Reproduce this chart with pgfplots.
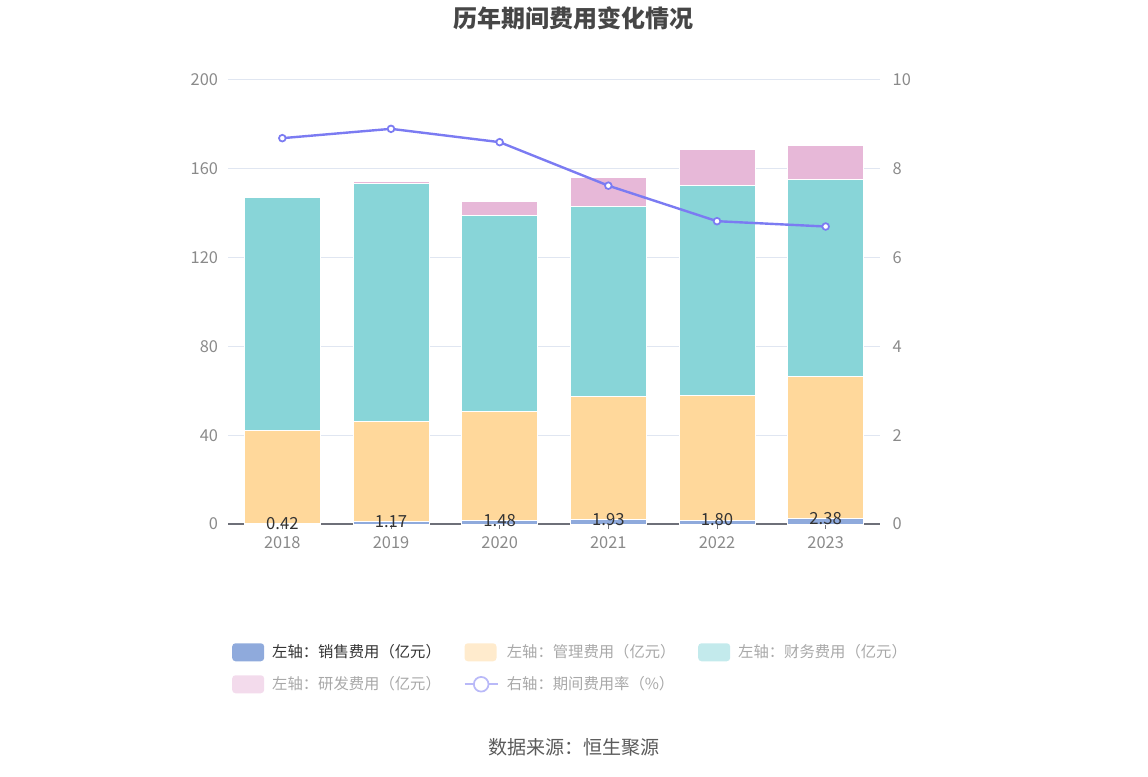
\documentclass[border=0pt]{standalone}
\usepackage{pgfplots}
\pgfplotsset{compat=1.18}
\usepackage{fontspec}
\setmainfont{Noto Sans CJK SC}
\definecolor{cSales}{HTML}{8FAADC}
\definecolor{cMgmt}{HTML}{FFD89B}
\definecolor{cFin}{HTML}{88D5D8}
\definecolor{cRD}{HTML}{E7B8D8}
\definecolor{cLine}{HTML}{7B7BF2}
\definecolor{cMgmtL}{HTML}{FFEBCD}
\definecolor{cFinL}{HTML}{C3EAEC}
\definecolor{cRDL}{HTML}{F3DBEC}
\definecolor{cLineL}{HTML}{B9B9F8}
\definecolor{cGrid}{HTML}{E0E6F1}
\definecolor{cAxis}{HTML}{6E7079}
\definecolor{cTick}{HTML}{8A8A8A}
\definecolor{cTitle}{HTML}{464646}
\definecolor{cLeg}{HTML}{333333}
\definecolor{cLegL}{HTML}{A8A8A8}
\definecolor{cSrc}{HTML}{5A5A5A}

\pgfplotstableread{
x sales mgmt fin rd rate label
0 0.42 41.9 104.7 0.5 8.69 0.42
1 1.17 45.2 107.2 0.9 8.90 1.17
2 1.48 49.1 88.3 6.6 8.60 1.48
3 1.93 55.6 85.4 13.3 7.62 1.93
4 1.80 56.0 94.6 16.4 6.82 1.80
5 2.38 64.1 88.6 15.3 6.70 2.38
}\data

\pgfplotsset{
  base/.style={
    at={(171pt,189pt)}, anchor=south west,
    scale only axis, width=489pt, height=333pt,
    xmin=-0.5, xmax=5.5,
    /pgf/number format/assume math mode=true,
    tick label style={font=\fontsize{12.3}{14}\selectfont, color=cTick},
  },
  boxleg/.style={legend image code/.code={\fill[##1, draw=none, rounded corners=2.5pt] (0pt,-6.75pt) rectangle (24pt,6.75pt);}},
}

\begin{document}
\begin{tikzpicture}[x=1pt,y=1pt]
\path (0,0) rectangle (861,582);

\begin{axis}[base,
  ymin=0, ymax=200, ytick={0,40,...,200},
  xtick={0,...,5}, xticklabels={2018,2019,2020,2021,2022,2023},
  ybar stacked, bar width=57pt,
  axis x line*=bottom, axis y line*=left,
  x axis line style={-, color=cAxis, line width=0.8pt},
  y axis line style={draw=none},
  ytick style={draw=none},
  xtick style={color=cAxis, line width=0.75pt},
  xtick align=outside, major tick length=3.75pt,
  ymajorgrids, grid style={color=cGrid, line width=0.75pt},
  yticklabel style={xshift=-4pt},
  xticklabel style={yshift=-2pt},
]
\addplot[fill=cSales, draw=white, line width=0.4pt] table[x=x, y=sales] {\data};
\addplot[fill=cMgmt, draw=white, line width=0.4pt] table[x=x, y=mgmt] {\data};
\addplot[fill=cFin, draw=white, line width=0.4pt] table[x=x, y=fin] {\data};
\addplot[fill=cRD, draw=white, line width=0.4pt] table[x=x, y=rd] {\data};
\end{axis}

\begin{axis}[base,
  ymin=0, ymax=10, ytick={0,2,...,10},
  axis x line=none, axis y line*=right,
  y axis line style={draw=none}, ytick style={draw=none},
  yticklabel style={xshift=6pt},
  legend columns=3,
  legend style={draw=none, fill=none, at={(0.006,-0.268)}, anchor=north west,
    font=\fontsize{11.5}{13}\selectfont, inner sep=0pt,
    row sep=10.5pt,
    /tikz/every odd column/.append style={column sep=6pt},
    /tikz/every even column/.append style={column sep=17pt},
    nodes={inner sep=0pt}},
  legend cell align=left,
]
\addlegendimage{boxleg, fill=cSales}
\addlegendentry{\textcolor{cLeg}{左轴：销售费用（亿元）}}
\addlegendimage{boxleg, fill=cMgmtL}
\addlegendentry{\textcolor{cLegL}{左轴：管理费用（亿元）}}
\addlegendimage{boxleg, fill=cFinL}
\addlegendentry{\textcolor{cLegL}{左轴：财务费用（亿元）}}
\addlegendimage{boxleg, fill=cRDL}
\addlegendentry{\textcolor{cLegL}{左轴：研发费用（亿元）}}
\addlegendimage{legend image code/.code={\draw[cLineL, line width=1.5pt] (0pt,0pt) -- (25pt,0pt); \draw[cLineL, fill=white, line width=1.3pt] (12.5pt,0pt) circle (5.5pt);}}
\addlegendentry{\textcolor{cLegL}{右轴：期间费用率（\%）}}
\addplot[forget plot, color=cLine, line width=1.8pt, mark=*, mark size=2.5pt,
  mark options={fill=white, draw=cLine, line width=1.3pt}] table[x=x, y=rate] {\data};
\end{axis}

\begin{axis}[base, hide axis, ymin=0, ymax=200]
\addplot[draw=none, nodes near coords, point meta=explicit symbolic,
  every node near coord/.style={anchor=center, font=\fontsize{12.5}{14}\selectfont, color=cLeg}]
  table[x=x, y=sales, meta=label] {\data};
\end{axis}

\node[font=\fontsize{18}{20}\selectfont\bfseries, color=cTitle] at (430,568.5) {历年期间费用变化情况};
\node[font=\fontsize{14.3}{16}\selectfont, color=cSrc] at (430.5,21.75) {数据来源：恒生聚源};
\end{tikzpicture}
\end{document}
